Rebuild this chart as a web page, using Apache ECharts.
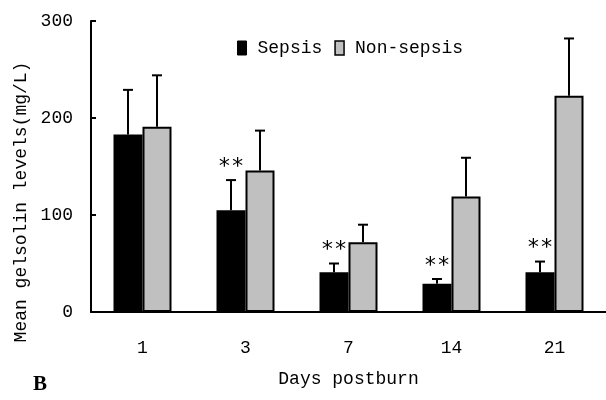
<!DOCTYPE html>
<html>
<head>
<meta charset="utf-8">
<script src="https://cdn.jsdelivr.net/npm/echarts@6/dist/echarts.min.js"></script>
<style>
html, body { margin: 0; padding: 0; background: #fff; }
#chart { width: 606px; height: 400px; }
</style>
</head>
<body>
<div id="chart"></div>
<script>
// days postburn
var days = ['1', '3', '7', '14', '21'];
var sepsisMean = [183, 105, 41, 29, 41];
var sepsisUpper = [229, 136, 50, 34, 52];
var nonSepsisMean = [191, 146, 72, 119, 223];
var nonSepsisUpper = [244, 187, 90, 159, 282];
var marks = ['', '**', '**', '**', '**'];
var yTicks = [0, 100, 200, 300];

var FONT = '"Liberation Mono", "DejaVu Sans Mono", monospace';
var BAR_W = 29;

function errData(mean, upper) {
    return days.map(function (d, i) {
        return [i, mean[i], upper[i], marks[i]];
    });
}

// 误差线（只画上半部分）
function errRender(offset, withMark) {
    return function (params, api) {
        var i = api.value(0);
        var base = api.coord([i, api.value(1)]);
        var top = api.coord([i, api.value(2)]);
        var x = base[0] + offset;
        var kids = [
            { type: 'line', shape: { x1: x, y1: base[1], x2: x, y2: top[1] },
              style: { stroke: '#000', lineWidth: 2 } },
            { type: 'line', shape: { x1: x - 5, y1: top[1], x2: x + 5, y2: top[1] },
              style: { stroke: '#000', lineWidth: 2 } }
        ];
        if (withMark && marks[i]) {
            kids.push({ type: 'text', x: x, y: top[1] - 2,
                style: { text: marks[i], font: '22px "DejaVu Sans Mono", monospace', fill: '#000',
                         align: 'center', verticalAlign: 'bottom' } });
        }
        return { type: 'group', children: kids };
    };
}

var chart = echarts.init(document.getElementById('chart'));
chart.setOption({
    animation: false,
    backgroundColor: '#fff',
    grid: { left: 91, right: -7, top: 21, bottom: 88 },
    legend: {
        left: 232, top: 34,
        itemWidth: 9, itemHeight: 14, itemGap: 12,
        textStyle: { fontFamily: FONT, fontSize: 18, color: '#000', padding: [0, 0, 0, 6] },
        data: [
            { name: 'Sepsis', icon: 'rect', itemStyle: { color: '#000', borderColor: '#000', borderWidth: 1 } },
            { name: 'Non-sepsis', icon: 'rect', itemStyle: { color: '#c0c0c0', borderColor: '#000', borderWidth: 1.5 } }
        ]
    },
    xAxis: {
        type: 'category',
        data: days,
        name: 'Days postburn',
        nameLocation: 'middle',
        nameGap: 58,
        nameTextStyle: { fontFamily: FONT, fontSize: 18, color: '#000' },
        axisLine: { lineStyle: { color: '#000', width: 2 } },
        axisTick: { inside: true, length: 5, lineStyle: { color: '#000', width: 2 } },
        axisLabel: { fontFamily: FONT, fontSize: 18, color: '#000', margin: 27 },
        splitLine: { show: false }
    },
    yAxis: {
        type: 'value',
        min: yTicks[0], max: yTicks[yTicks.length - 1], interval: 100,
        axisLine: { show: true, lineStyle: { color: '#000', width: 2 } },
        axisTick: { show: true, inside: true, length: 5, lineStyle: { color: '#000', width: 2 } },
        axisLabel: { fontFamily: FONT, fontSize: 18, color: '#000', margin: 18 },
        splitLine: { show: false }
    },
    series: [
        {
            name: 'Sepsis', type: 'bar', barWidth: BAR_W, barGap: '0%',
            itemStyle: { color: '#000', borderColor: '#000', borderWidth: 2 },
            data: sepsisMean
        },
        {
            name: 'Non-sepsis', type: 'bar', barWidth: BAR_W, barGap: '0%',
            itemStyle: { color: '#c0c0c0', borderColor: '#000', borderWidth: 2 },
            data: nonSepsisMean
        },
        {
            type: 'custom', z: 5,
            encode: { x: 0, y: [1, 2] },
            renderItem: errRender(-BAR_W / 2, true),
            data: errData(sepsisMean, sepsisUpper)
        },
        {
            type: 'custom', z: 5,
            encode: { x: 0, y: [1, 2] },
            renderItem: errRender(BAR_W / 2, false),
            data: errData(nonSepsisMean, nonSepsisUpper)
        }
    ],
    graphic: [
        { type: 'text', x: 21, y: 202, rotation: Math.PI / 2,
          style: { text: 'Mean gelsolin levels(mg/L)', font: '18px ' + FONT, fill: '#000',
                   align: 'center', verticalAlign: 'middle' } },
        { type: 'text', x: 40, y: 385,
          style: { text: 'B', font: 'bold 21px "Liberation Serif", serif', fill: '#000',
                   align: 'center', verticalAlign: 'middle' } }
    ]
});
</script>
</body>
</html>
